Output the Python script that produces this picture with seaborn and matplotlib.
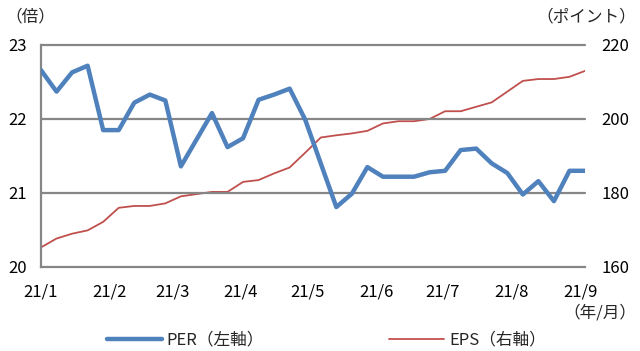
import pandas as pd
import matplotlib.pyplot as plt
import seaborn as sns

# =========================================================
# DADOS (semanal, sextas-feiras)
# =========================================================
START = "2021-01-01"
N_WEEKS = 36

PER = [22.66, 22.37, 22.63, 22.72, 21.85, 21.85, 22.22, 22.33, 22.25, 21.36,
       21.72, 22.08, 21.62, 21.74, 22.26, 22.33, 22.41, 21.99, 21.40, 20.81,
       20.99, 21.35, 21.22, 21.22, 21.22, 21.28, 21.30, 21.58, 21.60, 21.40,
       21.27, 20.98, 21.16, 20.89, 21.30, 21.30]

EPS = [165.3, 167.7, 169.0, 169.9, 172.2, 176.0, 176.5, 176.5, 177.2, 179.1,
       179.7, 180.3, 180.3, 183.0, 183.5, 185.3, 186.9, 190.9, 195.0, 195.6,
       196.1, 196.8, 198.8, 199.4, 199.4, 200.0, 202.1, 202.1, 203.3, 204.5,
       207.4, 210.3, 210.8, 210.8, 211.4, 213.0]

TICK_LABELS = ["21/1", "21/2", "21/3", "21/4", "21/5", "21/6", "21/7", "21/8", "21/9"]
LEFT_TICKS = [20, 21, 22, 23]
RIGHT_TICKS = [160, 180, 200, 220]

BLUE = "#4F81BD"
RED = "#C0504D"
GRID = "#868686"

sns.set_theme(style="white")
plt.rcParams['font.family'] = ['Noto Sans CJK JP', 'DejaVu Sans']

df = pd.DataFrame({
    "date": pd.date_range(START, periods=N_WEEKS, freq="7D"),
    "PER": PER,
    "EPS": EPS,
})

fig = plt.figure(figsize=(6.4, 3.51), dpi=100)
ax = fig.add_axes([41 / 640, 1 - 267 / 351, 544 / 640, 222 / 351])
ax2 = ax.twinx()

# grade (inclui a linha do topo em 23)
for v in LEFT_TICKS[1:]:
    ax.axhline(v, color=GRID, lw=1.6, zorder=0, clip_on=False)

sns.lineplot(data=df, x="date", y="PER", ax=ax, color=BLUE, lw=3.2,
             label="PER（左軸）", legend=False, zorder=3)
sns.lineplot(data=df, x="date", y="EPS", ax=ax2, color=RED, lw=1.3,
             label="EPS（右軸）", legend=False, zorder=2)
ax.set_zorder(ax2.get_zorder() + 1)
ax.patch.set_visible(False)

ax.set_xlim(df["date"].iloc[0], df["date"].iloc[-1])
ax.set_ylim(20, 23)
ax2.set_ylim(160, 220)

month_starts = pd.date_range("2021-01-01", "2021-09-01", freq="MS")
ax.set_xticks(month_starts)
ax.set_xticklabels(TICK_LABELS)
ax.set_yticks(LEFT_TICKS)
ax.set_yticklabels([str(v) for v in LEFT_TICKS])
ax2.set_yticks(RIGHT_TICKS)
ax2.set_yticklabels([str(v) for v in RIGHT_TICKS])

ax.tick_params(axis="x", direction="in", length=5, width=1.5, color=GRID,
               pad=12, labelsize=12, labelcolor="black")
ax.tick_params(axis="y", length=0, pad=10, labelsize=12, labelcolor="black")
ax2.tick_params(axis="y", length=0, pad=12, labelsize=12, labelcolor="black")

ax.set_xlabel("")
ax.set_ylabel("")
ax2.set_ylabel("")

for a in (ax, ax2):
    for s in ("top", "right", "left", "bottom"):
        a.spines[s].set_visible(False)
for s in ("left", "bottom"):
    ax.spines[s].set_visible(True)
    ax.spines[s].set_color(GRID)
    ax.spines[s].set_linewidth(1.6)

fig.text(5 / 640, 1 - 17 / 351, "（倍）", fontsize=12, va="center", ha="left")
fig.text(636 / 640, 1 - 17 / 351, "（ポイント）", fontsize=12, va="center", ha="right")
fig.text(636 / 640, 1 - 313 / 351, "（年/月）", fontsize=12, va="center", ha="right")

handles = ax.get_lines()[-1:] + ax2.get_lines()[-1:]
fig.legend(handles, ["PER（左軸）", "EPS（右軸）"], loc="center",
           bbox_to_anchor=(0.51, 1 - 340 / 351), ncol=2, frameon=False,
           fontsize=12, handlelength=3.3, columnspacing=7.5, handletextpad=0.3)

fig.savefig("out.png", dpi=100)
